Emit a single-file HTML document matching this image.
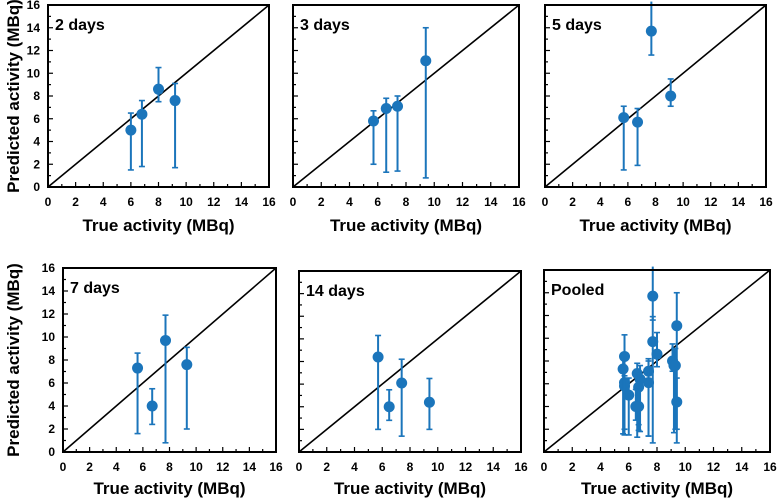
<!DOCTYPE html>
<html><head><meta charset="utf-8"><style>
html,body{margin:0;padding:0;background:#fff;}
svg{display:block;font-family:"Liberation Sans",Arial,sans-serif;}
</style></head><body>
<svg id="chart" width="778" height="500" viewBox="0 0 778 500" xmlns="http://www.w3.org/2000/svg"></svg>
<script>
const panelTitles = ["2 days","3 days","5 days","7 days","14 days","Pooled"];
const trueX = [
  [6.0,6.8,8.0,9.2],
  [5.7,6.6,7.4,9.4],
  [5.7,6.7,7.7,9.1],
  [5.6,6.7,7.7,9.3],
  [5.7,6.5,7.4,9.4]
];
const predY = [
  [5.0,6.4,8.6,7.6],
  [5.8,6.9,7.1,11.1],
  [6.1,5.7,13.7,8.0],
  [7.3,4.0,9.7,7.6],
  [8.4,4.0,6.1,4.4]
];
const errLow = [
  [1.5,1.8,7.5,1.7],
  [2.0,1.3,1.4,0.8],
  [1.5,1.9,11.6,7.1],
  [1.6,2.4,0.8,2.0],
  [2.0,2.8,1.4,2.0]
];
const errHigh = [
  [6.5,7.6,10.5,9.1],
  [6.7,7.8,8.0,14.0],
  [7.1,6.9,16.5,9.5],
  [8.6,5.5,11.9,9.1],
  [10.3,5.5,8.2,6.5]
];
const tickLabels = ["0","2","4","6","8","10","12","14","16"];
const axisMax = 16;

const boxes = [
  {x0:48,x1:269,y0:5,y1:187,yl:true,tr:202,tt:231},
  {x0:293,x1:519,y0:5,y1:187,yl:false,tr:202,tt:231},
  {x0:545,x1:766,y0:5,y1:187,yl:false,tr:202,tt:231},
  {x0:63,x1:276,y0:268,y1:452,yl:true,tr:467,tt:494},
  {x0:299,x1:521,y0:271,y1:452,yl:false,tr:467,tt:494},
  {x0:544,x1:770,y0:270,y1:452,yl:false,tr:467,tt:494}
];
const NS="http://www.w3.org/2000/svg";
const svg=document.getElementById('chart');
function mk(tag,attrs,parent){const e=document.createElementNS(NS,tag);for(const k in attrs)e.setAttribute(k,attrs[k]);(parent||svg).appendChild(e);return e;}
const blue="#1b75bb";

boxes.forEach((b,pi)=>{
  const g=mk('g',{});
  
  
  const sx=v=>b.x0+(v/axisMax)*(b.x1-b.x0);
  const sy=v=>b.y1-(v/axisMax)*(b.y1-b.y0);
  for(let i=0;i<=axisMax;i++){
    const len=(i%2===0)?5:3;
    mk('line',{x1:sx(i),x2:sx(i),y1:b.y1,y2:b.y1-len,stroke:'#000','stroke-width':1.2},g);
    mk('line',{x1:b.x0,x2:b.x0+len,y1:sy(i),y2:sy(i),stroke:'#000','stroke-width':1.2},g);
  }
  const idl=mk('line',{x1:sx(0),y1:sy(0),x2:sx(axisMax),y2:sy(axisMax),stroke:'#000','stroke-width':1.6},g);
  
  
  const series = pi<5 ? [pi] : [0,1,2,3,4];
  series.forEach(si=>{
    trueX[si].forEach((xv,j)=>{
      const cx=sx(xv);
      const lo=sy(errLow[si][j]);
      const hi=sy(Math.min(errHigh[si][j],axisMax+0.3));
      const eb=mk('g',{},g);
      
      
      mk('line',{x1:cx,x2:cx,y1:lo,y2:hi,stroke:blue,'stroke-width':2},eb);
      mk('line',{x1:cx-3,x2:cx+3,y1:lo,y2:lo,stroke:blue,'stroke-width':1.6},eb);
      if(errHigh[si][j]<=axisMax) mk('line',{x1:cx-3,x2:cx+3,y1:hi,y2:hi,stroke:blue,'stroke-width':1.6},eb);
      const c=mk('circle',{cx:cx,cy:sy(predY[si][j]),r:5.5,fill:blue},g);
      
      
    });
  });
  mk('rect',{x:b.x0,y:b.y0,width:b.x1-b.x0,height:b.y1-b.y0,fill:'none',stroke:'#000','stroke-width':2},g);
  const t=mk('text',{x:b.x0+7,y:b.y0+25,'font-size':16,'font-weight':'bold',fill:'#000'},g);
  t.textContent=panelTitles[pi];
  
  
  tickLabels.forEach((lab,k)=>{
    const tx=mk('text',{x:sx(k*2),y:b.tr+4,'font-size':12,'font-weight':'bold','text-anchor':'middle'},g);
    tx.textContent=lab;
    
    
    if(b.yl){
      const ty=mk('text',{x:b.x0-8,y:sy(k*2)+4,'font-size':12,'font-weight':'bold','text-anchor':'end'},g);
      ty.textContent=lab;
      
      
    }
  });
  const xt=mk('text',{x:(b.x0+b.x1)/2,y:b.tt,'font-size':17,'font-weight':'bold','text-anchor':'middle'},g);
  xt.textContent='True activity (MBq)';
  
  
  if(b.yl){
    const cy=(b.y0+b.y1)/2;
    const yt=mk('text',{x:0,y:0,'font-size':17,'font-weight':'bold','text-anchor':'middle',transform:'translate(19,'+cy+') rotate(-90)'},g);
    yt.textContent='Predicted activity (MBq)';
    
    
  }
});
</script>
</body></html>
